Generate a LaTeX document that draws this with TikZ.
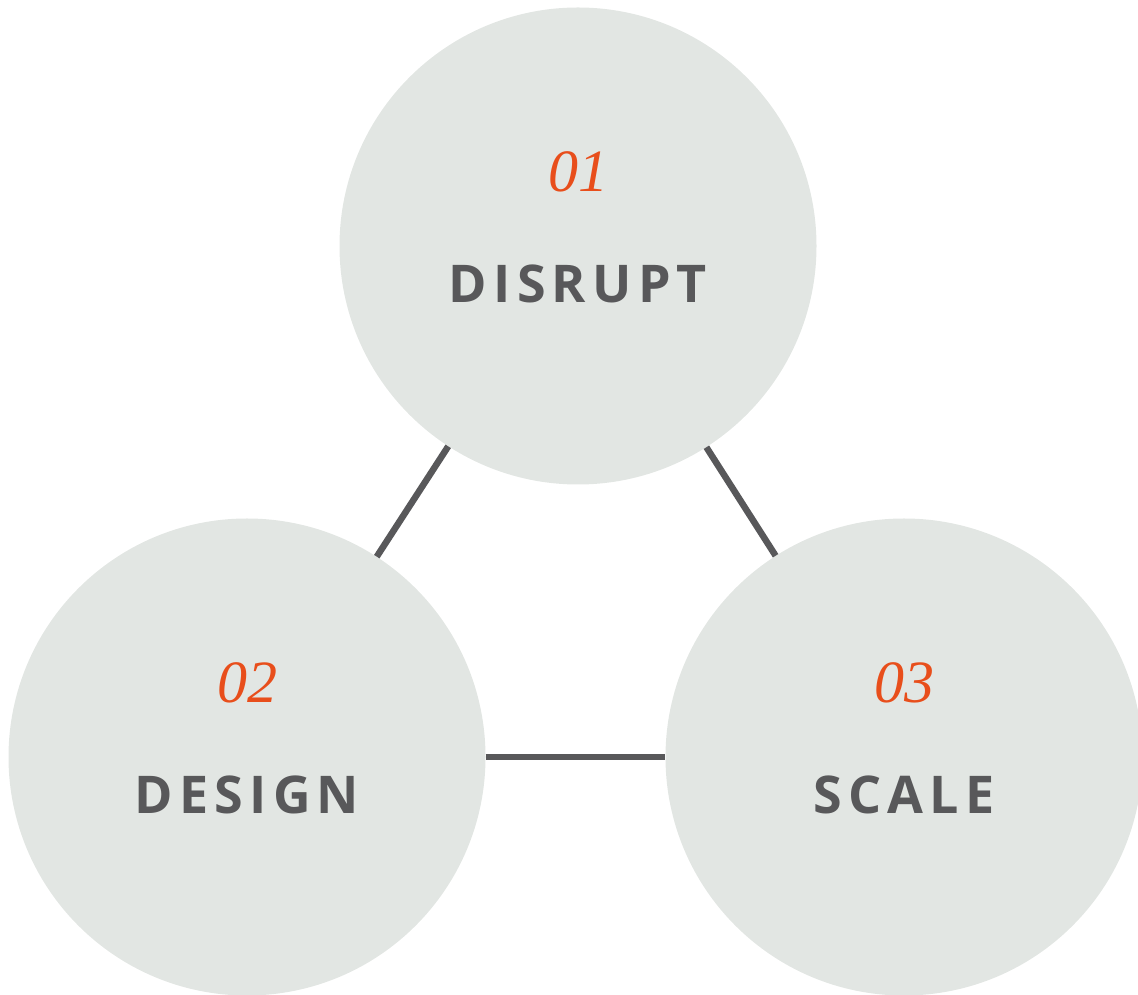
\documentclass[tikz,border=0pt]{standalone}
\usepackage{fontspec}
\setmainfont{Liberation Serif}
\newfontfamily\wordfont[LetterSpace=12]{Open Sans}
\usetikzlibrary{positioning}

\definecolor{stagegrey}{HTML}{E2E6E3}
\definecolor{inkgrey}{HTML}{58585A}
\definecolor{numorange}{HTML}{E84E1B}

\begin{document}
\begin{tikzpicture}
        [x=1pt, y=1pt,
        stage/.style={circle, fill=stagegrey, minimum size=477pt, inner sep=0pt},
        num/.style={font=\fontsize{60}{60}\selectfont\itshape, text=numorange},
        word/.style={font=\wordfont\bfseries\fontsize{52}{52}\selectfont, text=inkgrey},
        link/.style={draw=inkgrey, line width=6.5pt}]
        \useasboundingbox (0,0) rectangle (1138,994);
        % the three stages
        \node[stage] (disrupt) at (578,748) {};
        \node[stage] (design) at (247,237) {};
        \node[stage] (scale) at (904,237) {};
        % links between them
        \draw[link] (disrupt) -- (design);
        \draw[link] (disrupt) -- (scale);
        \draw[link] (design) -- (scale);
        % labels
        \node[num] (n1) at ([yshift=74pt]disrupt.center) {01};
        \node[word] (w1) at ([yshift=-38pt]disrupt.center) {DISRUPT};
        \node[num] (n2) at ([yshift=74pt]design.center) {02};
        \node[word] (w2) at ([yshift=-38pt]design.center) {DESIGN};
        \node[num] (n3) at ([yshift=74pt]scale.center) {03};
        \node[word] (w3) at ([yshift=-38pt]scale.center) {SCALE};
\end{tikzpicture}
\end{document}
